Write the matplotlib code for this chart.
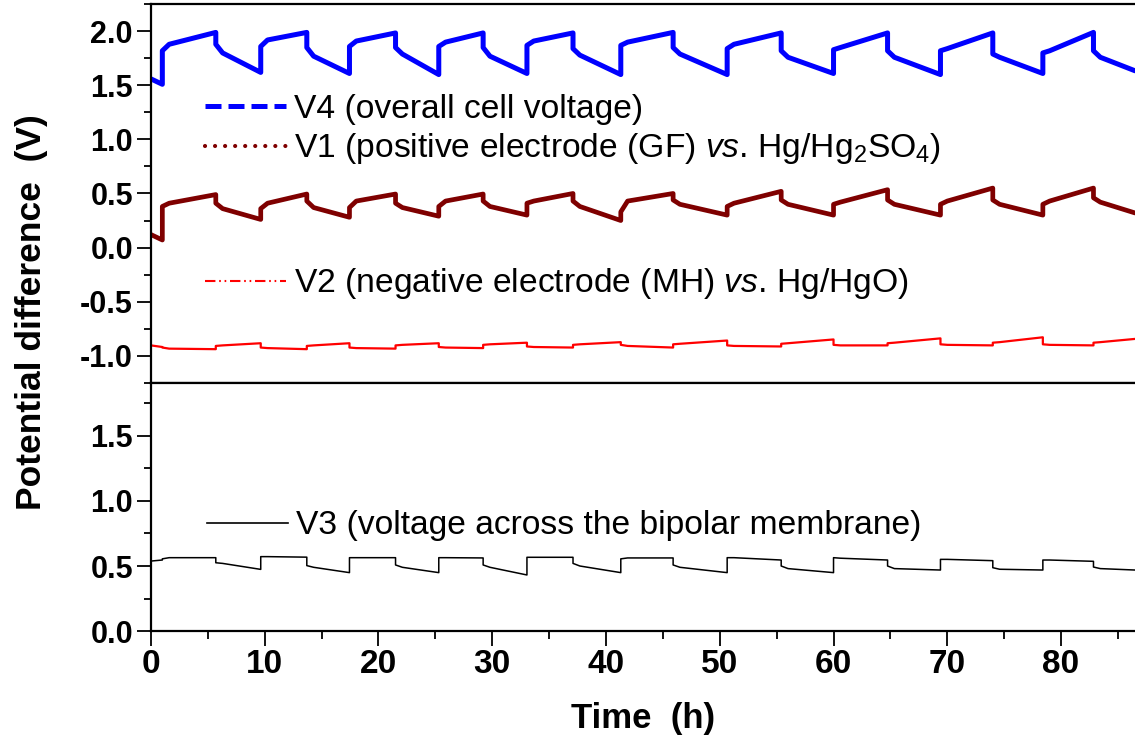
import matplotlib

matplotlib.use("Agg")
import matplotlib.pyplot as plt
from matplotlib.lines import Line2D
from matplotlib.ticker import MultipleLocator

plt.rcParams["font.family"] = ["Liberation Sans", "DejaVu Sans"]
plt.rcParams["mathtext.fontset"] = "custom"
plt.rcParams["mathtext.rm"] = "Liberation Sans"
plt.rcParams["mathtext.it"] = "Liberation Sans:italic"
plt.rcParams["axes.unicode_minus"] = False

# cycle timing (h): charge starts at t_on, discharge starts at t_off
t_on = [1.0, 9.65, 17.45, 25.3, 33.05, 41.3, 50.65, 60.0, 69.4, 78.4]
t_off = [5.7, 13.7, 21.5, 29.2, 37.1, 45.9, 55.4, 64.75, 74.0, 82.85]
t_end = 86.5
knee_h = 0.6

# readings per cycle: charge (start, knee, end), discharge (start, knee, end)
v4_rest = [1.56, 1.51]
v4_charge = [(1.82, 1.88, 1.99), (1.86, 1.92, 1.99), (1.86, 1.91, 1.985), (1.86, 1.90, 1.985),
             (1.87, 1.91, 1.985), (1.87, 1.90, 1.99), (1.84, 1.88, 1.985), (1.83, 1.85, 1.985),
             (1.82, 1.84, 1.985), (1.80, 1.82, 1.99)]
v4_dis = [(1.88, 1.80, 1.62), (1.85, 1.77, 1.61), (1.85, 1.79, 1.60), (1.85, 1.77, 1.61),
          (1.84, 1.78, 1.60), (1.85, 1.79, 1.60), (1.82, 1.76, 1.61), (1.82, 1.76, 1.60),
          (1.79, 1.76, 1.61), (1.82, 1.76, 1.635)]

v1_rest = [0.12, 0.07]
v1_charge = [(0.38, 0.41, 0.49), (0.36, 0.41, 0.495), (0.37, 0.43, 0.495), (0.38, 0.43, 0.495),
             (0.41, 0.43, 0.50), (0.33, 0.43, 0.50), (0.38, 0.41, 0.52), (0.40, 0.42, 0.535),
             (0.40, 0.43, 0.55), (0.40, 0.43, 0.55)]
v1_dis = [(0.41, 0.36, 0.26), (0.43, 0.37, 0.28), (0.41, 0.37, 0.29), (0.43, 0.38, 0.30),
          (0.43, 0.38, 0.25), (0.44, 0.40, 0.30), (0.44, 0.40, 0.30), (0.44, 0.40, 0.30),
          (0.44, 0.40, 0.30), (0.46, 0.42, 0.32)]

v2_rest = [-0.905, -0.92]
v2_charge = [(-0.925, -0.935, -0.94), (-0.925, -0.93, -0.94), (-0.925, -0.93, -0.935),
             (-0.92, -0.925, -0.93), (-0.915, -0.92, -0.925), (-0.90, -0.91, -0.925),
             (-0.905, -0.91, -0.915), (-0.90, -0.905, -0.905), (-0.895, -0.90, -0.905),
             (-0.895, -0.90, -0.905)]
v2_dis = [(-0.91, -0.905, -0.885), (-0.91, -0.905, -0.885), (-0.905, -0.90, -0.885),
          (-0.90, -0.895, -0.88), (-0.90, -0.895, -0.875), (-0.895, -0.89, -0.86),
          (-0.89, -0.885, -0.85), (-0.885, -0.88, -0.84), (-0.88, -0.875, -0.83),
          (-0.88, -0.875, -0.845)]

v3_rest = [0.538, 0.546]
v3_charge = [(0.555, 0.564, 0.564), (0.572, 0.572, 0.568), (0.564, 0.564, 0.564),
             (0.564, 0.564, 0.562), (0.567, 0.567, 0.567), (0.555, 0.562, 0.562),
             (0.564, 0.564, 0.546), (0.564, 0.560, 0.546), (0.551, 0.551, 0.541),
             (0.546, 0.546, 0.536)]
v3_dis = [(0.525, 0.52, 0.474), (0.503, 0.49, 0.449), (0.508, 0.49, 0.449),
          (0.508, 0.49, 0.431), (0.52, 0.50, 0.449), (0.508, 0.49, 0.449),
          (0.50, 0.48, 0.449), (0.50, 0.48, 0.469), (0.487, 0.475, 0.469),
          (0.492, 0.48, 0.469)]

labels = {
    "V4": "V4 (overall cell voltage)",
    "V1": "V1 (positive electrode (GF) $\\mathit{vs}$. Hg/Hg$_2$SO$_4$)",
    "V2": "V2 (negative electrode (MH) $\\mathit{vs}$. Hg/HgO)",
    "V3": "V3 (voltage across the bipolar membrane)",
}


def cycle_trace(rest, charge, dis):
    ts = [0.0, t_on[0]]
    vs = list(rest)
    t_next = t_on[1:] + [t_end]
    for i, (c, d) in enumerate(zip(charge, dis)):
        ts += [t_on[i], t_on[i] + knee_h, t_off[i], t_off[i], t_off[i] + knee_h, t_next[i]]
        vs += [c[0], c[1], c[2], d[0], d[1], d[2]]
    return ts, vs


def style_axis(ax, ylim):
    for side in ["left", "top", "bottom"]:
        ax.spines[side].set_linewidth(1.6)
    ax.spines["right"].set_visible(False)
    ax.set_xlim(0, t_end)
    ax.set_ylim(*ylim)
    ax.yaxis.set_major_locator(MultipleLocator(0.5))
    ax.yaxis.set_minor_locator(MultipleLocator(0.25))
    ax.xaxis.set_major_locator(MultipleLocator(10))
    ax.xaxis.set_minor_locator(MultipleLocator(5))
    ax.tick_params(axis="y", which="major", direction="out", length=10, width=1.3,
                   labelsize=22, pad=3)
    ax.tick_params(axis="y", which="minor", direction="out", length=5, width=1.3)
    for lab in ax.get_yticklabels():
        lab.set_fontweight("bold")


fig = plt.figure(figsize=(11.35, 7.52), dpi=100)
ax_top = fig.add_axes([0.133, 0.4911, 0.867, 0.5032])
ax_bot = fig.add_axes([0.133, 0.1609, 0.867, 0.3302])

t4, y4 = cycle_trace(v4_rest, v4_charge, v4_dis)
t1, y1 = cycle_trace(v1_rest, v1_charge, v1_dis)
t2, y2 = cycle_trace(v2_rest, v2_charge, v2_dis)
t3, y3 = cycle_trace(v3_rest, v3_charge, v3_dis)

ax_top.plot(t4, y4, color="#0000ff", lw=3.6, solid_capstyle="round", solid_joinstyle="round")
ax_top.plot(t1, y1, color="#7f0000", lw=3.4, solid_capstyle="round", solid_joinstyle="round")
ax_top.plot(t2, y2, color="#ff0000", lw=1.6)
ax_bot.plot(t3, y3, color="black", lw=1.1)

style_axis(ax_top, (-1.25, 2.25))
style_axis(ax_bot, (0, 1.91))
ax_top.tick_params(axis="x", which="both", bottom=False, labelbottom=False)
ax_bot.tick_params(axis="x", which="major", direction="out", length=11, width=1.3,
                   labelsize=24, pad=2)
ax_bot.tick_params(axis="x", which="minor", direction="out", length=6, width=1.3)
for lab in ax_bot.get_xticklabels():
    lab.set_fontweight("bold")

h4 = Line2D([], [], color="#0000ff", lw=3.6, linestyle=(0, (3.2, 1.4)))
h1 = Line2D([], [], color="#7f0000", lw=3.0, linestyle=(0, (0.01, 2.4)), dash_capstyle="round")
h2 = Line2D([], [], color="#ff0000", lw=1.5, linestyle=(0, (5, 1.8, 0.8, 1.8, 0.8, 1.8)))
h3 = Line2D([], [], color="black", lw=1.2)

leg_kw = dict(frameon=False, fontsize=24.2, handlelength=2.4, handletextpad=0.25,
              borderpad=0, borderaxespad=0, labelspacing=0.2, loc="center left")
leg_a = ax_top.legend([h4, h1], [labels["V4"], labels["V1"]],
                      bbox_to_anchor=(0.055, 0.668), **leg_kw)
ax_top.add_artist(leg_a)
ax_top.legend([h2], [labels["V2"]], bbox_to_anchor=(0.055, 0.261), **leg_kw)
ax_bot.legend([h3], [labels["V3"]], bbox_to_anchor=(0.057, 0.423), **leg_kw)

fig.text(0.028, 0.585, "Potential difference  (V)", rotation=90, ha="center", va="center",
         fontsize=25.5, fontweight="bold")
ax_bot.set_xlabel("Time  (h)", fontsize=25, fontweight="bold", labelpad=16)

fig.savefig("out.png", dpi=100)
plt.close(fig)
